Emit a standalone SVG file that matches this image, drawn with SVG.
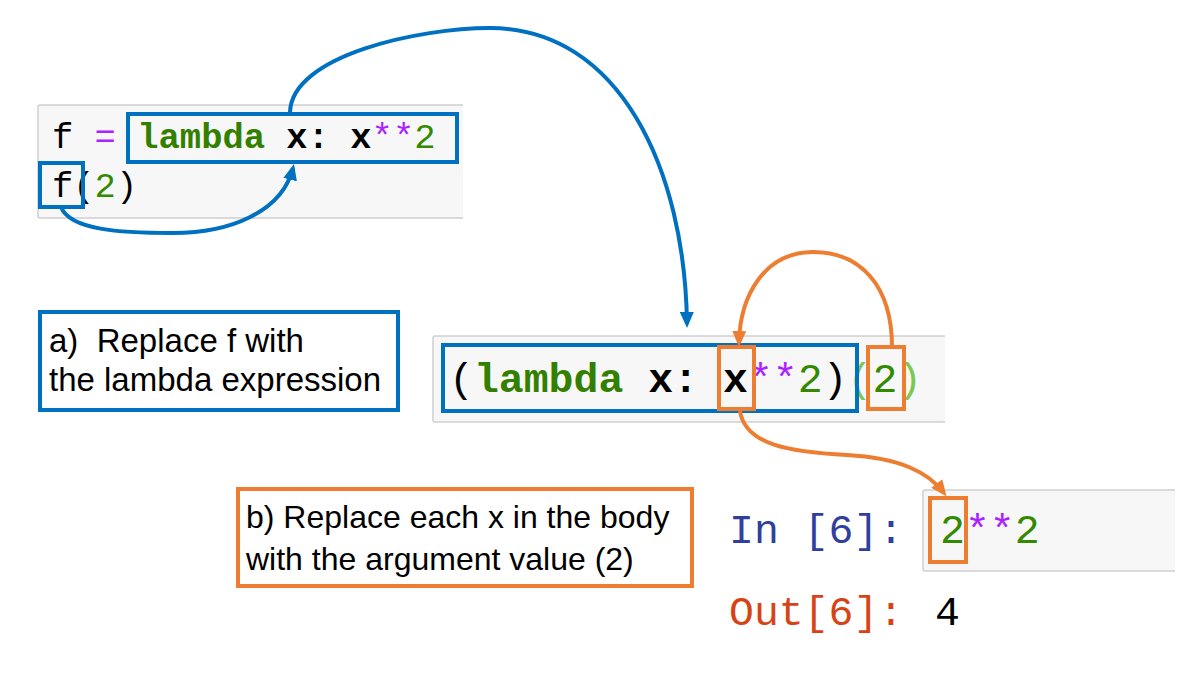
<svg xmlns="http://www.w3.org/2000/svg" width="1193" height="680" viewBox="0 0 1193 680">
<style>
.cell{fill:#f7f7f7;stroke:none}
.cellb{fill:none;stroke:#cfcfcf;stroke-width:1.5}
.code{font-family:"Liberation Mono","DejaVu Sans Mono",monospace;white-space:pre}
.kw{fill:#338000;font-weight:bold}
.num{fill:#338a00}
.op{fill:#aa22ff}
.bx{fill:#000;font-weight:bold}
.pl{fill:#000}
.br{fill:#7cc850}
.hb{fill:none;stroke:#0070c0;stroke-width:4}
.ho{fill:none;stroke:#ed7d31;stroke-width:4}
.lbl{font-family:"Liberation Sans",Arial,sans-serif;font-size:33px;fill:#000;white-space:pre}
.lblb{font-size:32px}
.cb{fill:none;stroke:#0070c0;stroke-width:4}
.co{fill:none;stroke:#ed7d31;stroke-width:4}
</style>
<defs>
<marker id="ab" markerUnits="userSpaceOnUse" markerWidth="16" markerHeight="14" viewBox="0 0 16 14" refX="12" refY="7" orient="auto"><path d="M0,0 L16,7 L0,14 z" fill="#0070c0"/></marker>
<marker id="ao" markerUnits="userSpaceOnUse" markerWidth="16" markerHeight="14" viewBox="0 0 16 14" refX="12" refY="7" orient="auto"><path d="M0,0 L16,7 L0,14 z" fill="#ed7d31"/></marker>
</defs>
<rect width="1193" height="680" fill="#fff"/>

<g id="cell-def">
<rect class="cell" x="38" y="105" width="425" height="113" rx="2"/>
<path class="cellb" d="M463,105 H40 Q38,105 38,107 V216 Q38,218 40,218 H463"/>
<text class="code" x="52" y="148" font-size="35.5"><tspan class="pl">f </tspan><tspan class="op">=</tspan><tspan class="pl"> </tspan><tspan class="kw">lambda</tspan><tspan class="bx"> x: x</tspan><tspan class="op">**</tspan><tspan class="num">2</tspan></text>
<text class="code" x="52" y="197" font-size="35.5"><tspan class="pl">f(</tspan><tspan class="num">2</tspan><tspan class="pl">)</tspan></text>
<rect class="hb" x="128" y="114" width="329" height="48"/>
<rect class="hb" x="40" y="163" width="43" height="44"/>
</g>

<g id="cell-sub">
<rect class="cell" x="433" y="336" width="512" height="86" rx="2"/>
<path class="cellb" d="M945,336 H435 Q433,336 433,338 V420 Q433,422 435,422 H945"/>
<text class="code" x="449" y="392" font-size="41.5"><tspan class="pl">(</tspan><tspan class="kw">lambda</tspan><tspan class="bx"> x: x</tspan><tspan class="op">**</tspan><tspan class="num">2</tspan><tspan class="pl">)</tspan><tspan class="br">(</tspan><tspan class="num">2</tspan><tspan class="br">)</tspan></text>
<rect class="hb" x="443" y="345" width="414" height="66"/>
<rect class="ho" x="719" y="347" width="35" height="62"/>
<rect class="ho" x="868" y="347" width="36" height="62"/>
</g>

<g id="cell-result">
<rect class="cell" x="923" y="490" width="252" height="81" rx="2"/>
<path class="cellb" d="M1175,490 H925 Q923,490 923,492 V569 Q923,571 925,571 H1175"/>
<text class="code" x="729" y="543" font-size="41.5" fill="#303f9f">In [6]:</text>
<text class="code" x="940" y="543" font-size="41.5"><tspan class="num">2</tspan><tspan class="op">**</tspan><tspan class="num">2</tspan></text>
<text class="code" x="729" y="625" font-size="41.5" fill="#d84315">Out[6]:</text>
<text class="code" x="935" y="625" font-size="41.5" fill="#000">4</text>
<rect class="ho" x="930" y="498" width="36" height="64"/>
</g>

<g id="note-a">
<rect x="40" y="312" width="358" height="98" fill="#fff" stroke="#0070c0" stroke-width="4"/>
<text class="lbl" x="49" y="352">a)  Replace f with</text>
<text class="lbl" x="49" y="391">the lambda expression</text>
</g>

<g id="note-b">
<rect x="238" y="489" width="454" height="97" fill="#fff" stroke="#ed7d31" stroke-width="4"/>
<text class="lbl lblb" x="246" y="528">b) Replace each x in the body</text>
<text class="lbl lblb" x="246" y="570">with the argument value (2)</text>
</g>

<g id="connectors">
<path class="cb" d="M61,207 C70,230 120,233 173,233 C230,233 282,212 293,168" marker-end="url(#ab)"/>
<path class="cb" d="M290,112 C292,55 420,28 490,28 C620,28 685,170 687,324" marker-end="url(#ab)"/>
<path class="co" d="M892,347 C892,285 860,252 813,252 C765,252 740,295 739,343" marker-end="url(#ao)"/>
<path class="co" d="M740,411 C745,445 790,452 847,455 C900,458 928,472 944,493" marker-end="url(#ao)"/>
</g>
</svg>
